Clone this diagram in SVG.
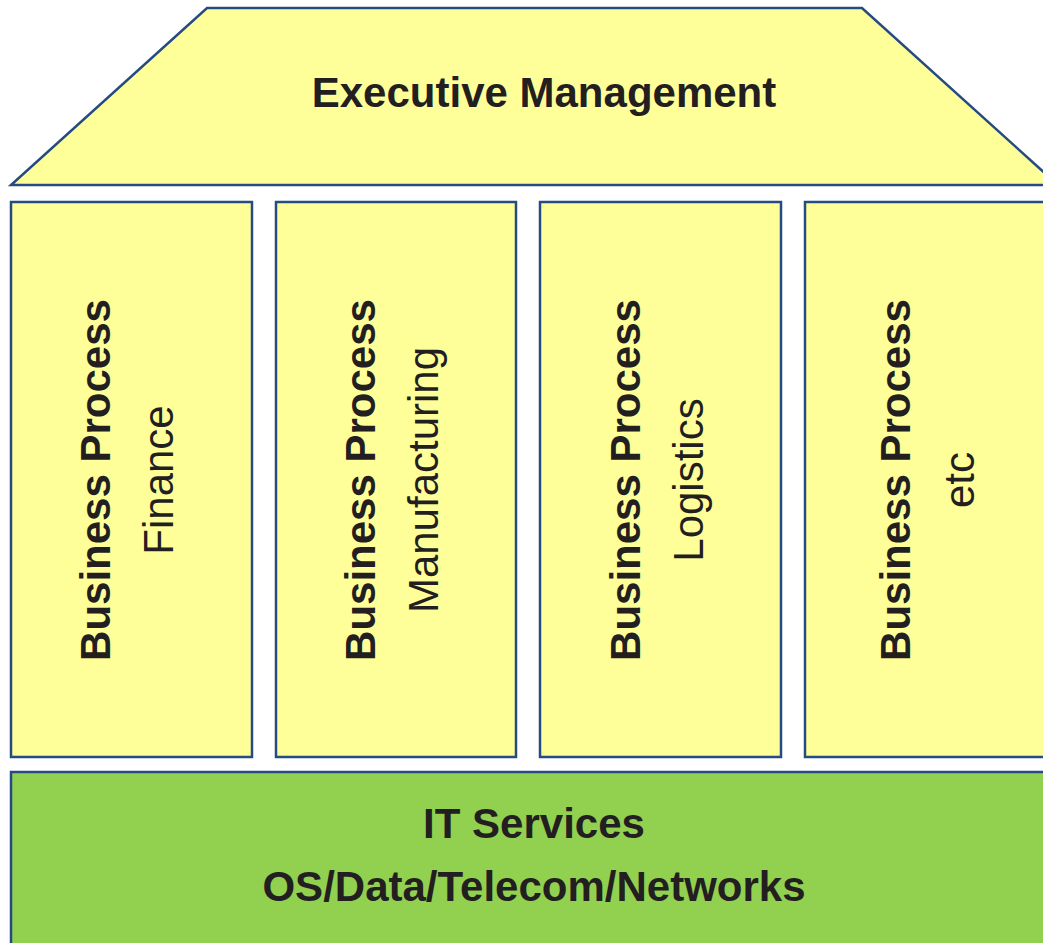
<svg xmlns="http://www.w3.org/2000/svg" width="1043" height="943" viewBox="0 0 1043 943">
<style>
.shape{stroke:#264B82;stroke-width:2.5;stroke-linejoin:miter}
.y{fill:#FFFF99}
.g{fill:#92D050}
text{font-family:"Liberation Sans",Arial,sans-serif;font-size:42px;fill:#231F20}
.b{font-weight:bold}
</style>
<rect width="1043" height="943" fill="#FFFFFF"/>
<g id="executive">
<polygon class="shape y" points="207,8 862,8 1058,185 11,185"/>
<text class="b" x="544" y="107" text-anchor="middle">Executive Management</text>
</g>
<g id="finance">
<rect class="shape y" x="11" y="202" width="241" height="555"/>
<text class="b" transform="translate(110,480) rotate(-90)" text-anchor="middle">Business Process</text>
<text transform="translate(173,480) rotate(-90)" text-anchor="middle">Finance</text>
</g>
<g id="manufacturing">
<rect class="shape y" x="276" y="202" width="240" height="555"/>
<text class="b" transform="translate(375,480) rotate(-90)" text-anchor="middle">Business Process</text>
<text transform="translate(438,480) rotate(-90)" text-anchor="middle">Manufacturing</text>
</g>
<g id="logistics">
<rect class="shape y" x="540" y="202" width="241" height="555"/>
<text class="b" transform="translate(640,480) rotate(-90)" text-anchor="middle">Business Process</text>
<text transform="translate(703,480) rotate(-90)" text-anchor="middle">Logistics</text>
</g>
<g id="etc">
<rect class="shape y" x="805" y="202" width="260" height="555"/>
<text class="b" transform="translate(910,480) rotate(-90)" text-anchor="middle">Business Process</text>
<text transform="translate(974,480) rotate(-90)" text-anchor="middle">etc</text>
</g>
<g id="it-services">
<rect class="shape g" x="11" y="772" width="1060" height="200"/>
<text class="b" x="534" y="838" text-anchor="middle">IT Services</text>
<text class="b" x="534" y="901" text-anchor="middle">OS/Data/Telecom/Networks</text>
</g>
<g id="connectors"></g>
</svg>
